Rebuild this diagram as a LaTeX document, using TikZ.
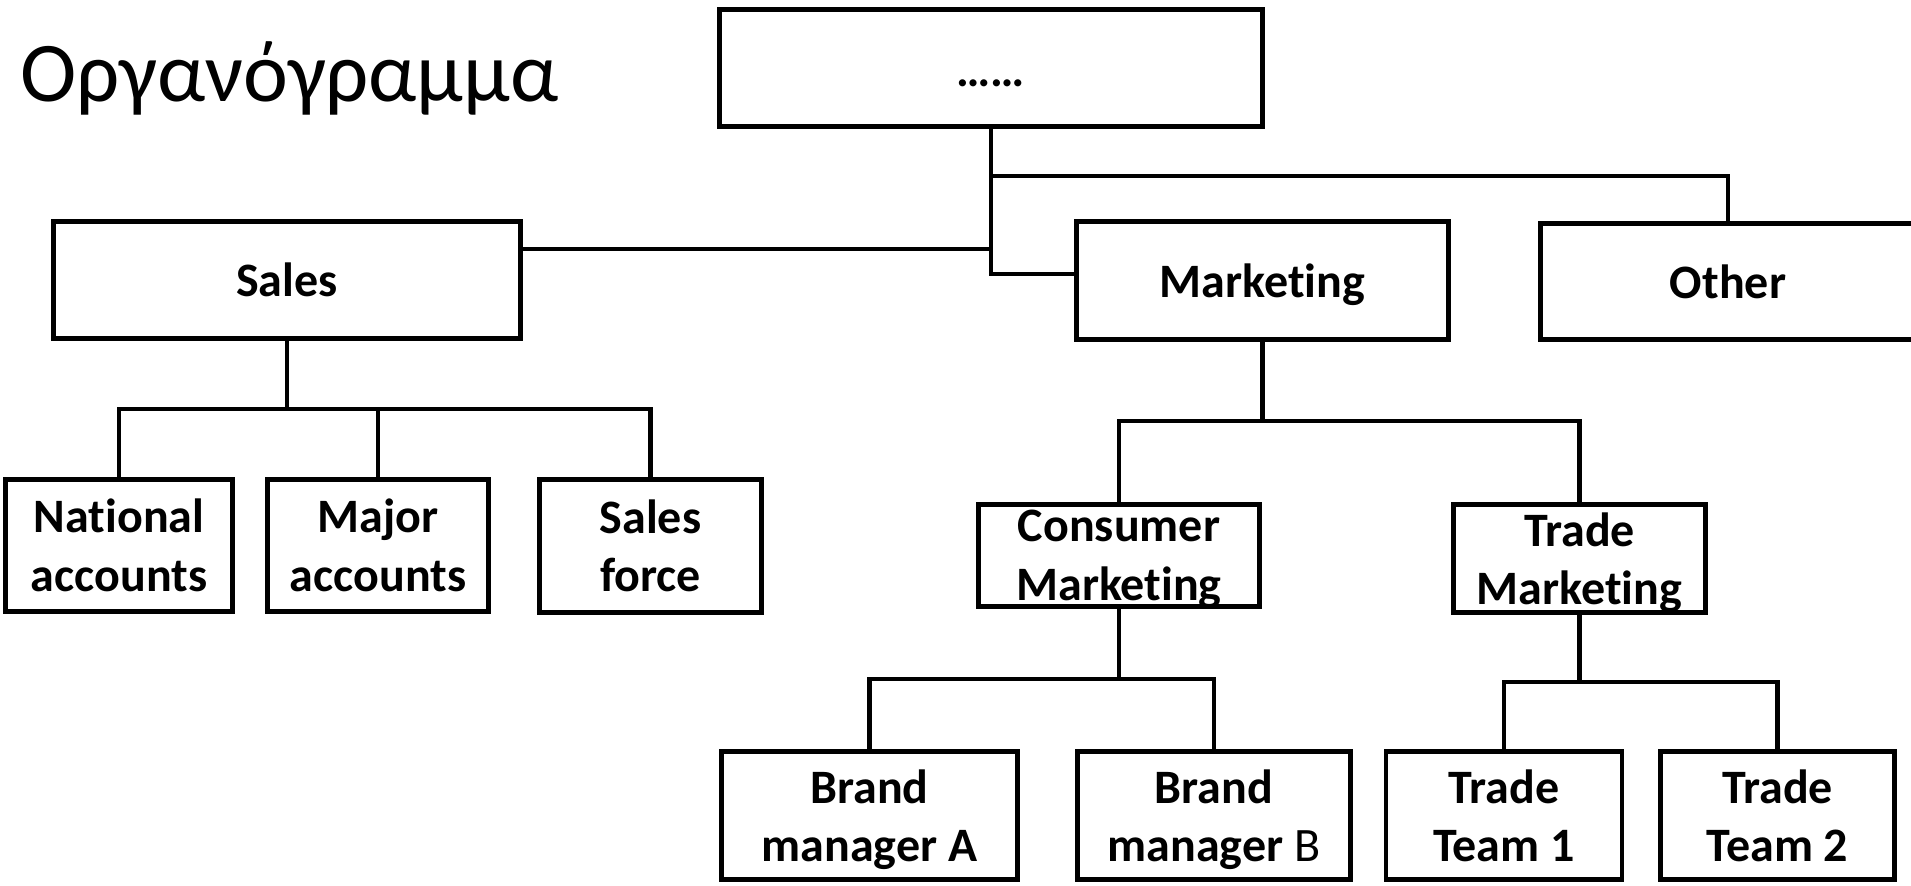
\documentclass[tikz,border=0pt]{standalone}
\usepackage{fontspec}
\setmainfont{Carlito}[Ligatures=NoCommon]
\begin{document}
\begin{tikzpicture}[x=0.5pt,y=-0.5pt,
  box/.style={draw, line width=2.4pt, inner sep=0pt, align=center,
    font=\fontsize{24}{29.3}\selectfont\bfseries},
  sz/.style 2 args={minimum width={#1*0.5pt}, minimum height={#2*0.5pt}},
  team/.style={text depth=-4pt},
  link/.style={line width=2.4pt, line cap=rect}]
\useasboundingbox (0,0) rectangle (1911,885);

% heading
\node[anchor=base west, inner sep=0pt, font=\fontsize{42.5}{50}\selectfont] (title) at (20,101) {Οργανόγραμμα};

% top level
\node[box, sz={542.5}{117.5}, text height=18pt, text depth=0pt] (top) at (991,68) {……};

% second level
\node[box, sz={466.5}{117.5}] (sales) at (287,280) {Sales};
\node[box, sz={372.5}{118.5}, text depth=0pt] (mkt) at (1262.5,280.5) {Marketing};
\node[box, sz={375.5}{116.5}] (other) at (1728,281.5) {Other};

% sales units
\node[box, sz={227.5}{132.5}] (nat) at (119,545.5) {National\\accounts};
\node[box, sz={221.5}{132.5}] (maj) at (378,545.5) {Major\\accounts};
\node[box, sz={222.5}{133.5}] (sf) at (650.5,546) {Sales\\force};

% marketing units
\node[box, sz={281}{102.5}, text depth=0pt] (cm) at (1119,555.5) {Consumer\\Marketing};
\node[box, sz={252.5}{108.5}, text depth=0pt] (tm) at (1579.5,558.5) {Trade\\Marketing};

% teams
\node[box, team, sz={296.5}{128.5}] (ba) at (869.5,815.5) {Brand\\manager A};
\node[box, team, sz={273.5}{128.5}] (bb) at (1214,815.5) {Brand\\manager {\mdseries B}};
\node[box, team, sz={236}{128.5}] (tt1) at (1504,815.5) {Trade\\Team 1};
\node[box, team, sz={234.5}{128.5}] (tt2) at (1777.5,815.5) {Trade\\Team 2};

% junction points on the trunk and the bus lines
\coordinate (otherBus) at (991,176);
\coordinate (salesIn) at (991,249);
\coordinate (mktIn) at (991,274);
\coordinate (busS) at (287,409);
\coordinate (busM) at (1262.5,421);
\coordinate (busC) at (1119,679);
\coordinate (busT) at (1579.5,682);

% trunk from the top box
\draw[link] (top.south) -- (mktIn) -- (mktIn -| mkt.west);
\draw[link] (sales.east |- salesIn) -- (salesIn);
\draw[link] (otherBus) -| (other.north);

% sales branch
\draw[link] (sales.south) -- (busS);
\draw[link] (nat.north) |- (sf.north |- busS) -- (sf.north);
\draw[link] (maj.north) -- (maj.north |- busS);

% marketing branch
\draw[link] (mkt.south) -- (busM);
\draw[link] (cm.north) |- (tm.north |- busM) -- (tm.north);

% consumer marketing teams
\draw[link] (cm.south) -- (busC);
\draw[link] (ba.north) |- (bb.north |- busC) -- (bb.north);

% trade marketing teams
\draw[link] (tm.south) -- (busT);
\draw[link] (tt1.north) |- (tt2.north |- busT) -- (tt2.north);
\end{tikzpicture}
\end{document}
